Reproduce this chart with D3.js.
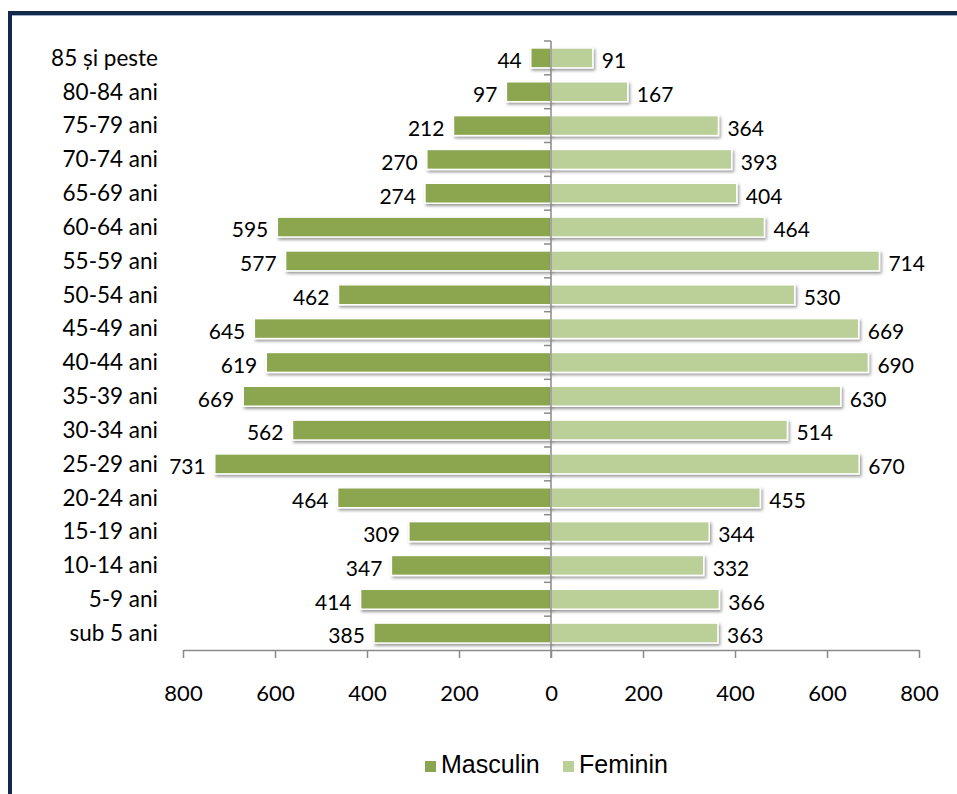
<!DOCTYPE html>
<html>
<head>
<meta charset="utf-8">
<script src="https://cdn.jsdelivr.net/npm/d3@7"></script>
<style>
  html, body { margin: 0; padding: 0; background: #ffffff; }
  svg { display: block; }
</style>
</head>
<body>
<script>
const categories = ["85 și peste","80-84 ani","75-79 ani","70-74 ani","65-69 ani","60-64 ani","55-59 ani","50-54 ani","45-49 ani","40-44 ani","35-39 ani","30-34 ani","25-29 ani","20-24 ani","15-19 ani","10-14 ani","5-9 ani","sub 5 ani"];
const masculin = [44,97,212,270,274,595,577,462,645,619,669,562,731,464,309,347,414,385];
const feminin  = [91,167,364,393,404,464,714,530,669,690,630,514,670,455,344,332,366,363];
const xTicks = [-800,-600,-400,-200,0,200,400,600,800];
const seriesNames = ["Masculin","Feminin"];
const colors = ["#8BA650","#BBCF98"];

const W = 957, H = 794;
const svg = d3.select("body").append("svg").attr("width", W).attr("height", H);

const defs = svg.append("defs");
const f = defs.append("filter").attr("id","shadow").attr("x","-10%").attr("y","-40%").attr("width","130%").attr("height","200%");
f.append("feDropShadow").attr("dx",1.5).attr("dy",2).attr("stdDeviation",1.8).attr("flood-color","#000").attr("flood-opacity",0.4);

// frame
svg.append("line").attr("x1",10).attr("x2",10).attr("y1",11).attr("y2",H).attr("stroke","#14284b").attr("stroke-width",4);
svg.append("line").attr("x1",8).attr("x2",W).attr("y1",13).attr("y2",13).attr("stroke","#14284b").attr("stroke-width",4);
svg.append("line").attr("x1",12).attr("x2",W).attr("y1",15.5).attr("y2",15.5).attr("stroke","#9fb0c8").attr("stroke-width",1);

const x = d3.scaleLinear().domain([-800,800]).range([183,919]);
const y = d3.scaleBand().domain(categories).range([41,650]).paddingInner(0.41).paddingOuter(0.205);

const font = "Lato, 'Open Sans', sans-serif";
const axisColor = "#8a8a8a";

// bars
const g = svg.append("g");
categories.forEach((c,i) => {
  g.append("rect")
    .attr("x", x(-masculin[i])).attr("y", y(c))
    .attr("width", x(0) - x(-masculin[i])).attr("height", y.bandwidth())
    .attr("fill", colors[0]).attr("stroke","#fff").attr("stroke-width",1.5)
    .attr("filter","url(#shadow)");
  g.append("rect")
    .attr("x", x(0)).attr("y", y(c))
    .attr("width", x(feminin[i]) - x(0)).attr("height", y.bandwidth())
    .attr("fill", colors[1]).attr("stroke","#fff").attr("stroke-width",1.5)
    .attr("filter","url(#shadow)");
});

// vertical axis at 0 with category boundary ticks
svg.append("line").attr("x1",x(0)).attr("x2",x(0)).attr("y1",41).attr("y2",658)
  .attr("stroke",axisColor).attr("stroke-width",1.5);
const step = y.step();
d3.range(categories.length).forEach(i => {
  const yy = y(categories[i]) - step*y.paddingInner()/2;
  svg.append("line").attr("x1",x(0)-7).attr("x2",x(0)).attr("y1",yy).attr("y2",yy)
    .attr("stroke",axisColor).attr("stroke-width",1.5);
});

// bottom axis
const xAxis = d3.axisBottom(x).tickValues(xTicks).tickSize(8).tickSizeOuter(0)
  .tickFormat(d => Math.abs(d));
const ax = svg.append("g").attr("transform","translate(0,650)").call(xAxis);
ax.select(".domain").attr("stroke",axisColor).attr("stroke-width",1.5);
ax.selectAll(".tick line").attr("stroke",axisColor).attr("stroke-width",1.5);
ax.selectAll(".tick text").attr("y",43).attr("dy","0.35em").attr("fill","#000")
  .style("font-family",font).style("font-size","22px");

// category labels
svg.append("g").selectAll("text").data(categories).join("text")
  .attr("x",158).attr("y",d => y(d)+y.bandwidth()/2).attr("dy","0.35em")
  .attr("text-anchor","end").style("font-family",font).style("font-size","22.5px").attr("fill","#000")
  .text(d => d);

// value labels
svg.append("g").selectAll("text").data(categories).join("text")
  .attr("x",(d,i) => x(-masculin[i]) - 9).attr("y",d => y(d)+y.bandwidth()/2 + 3).attr("dy","0.35em")
  .attr("text-anchor","end").style("font-family",font).style("font-size","21px").attr("fill","#000")
  .text((d,i) => masculin[i]);
svg.append("g").selectAll("text").data(categories).join("text")
  .attr("x",(d,i) => x(feminin[i]) + 9).attr("y",d => y(d)+y.bandwidth()/2 + 3).attr("dy","0.35em")
  .attr("text-anchor","start").style("font-family",font).style("font-size","21px").attr("fill","#000")
  .text((d,i) => feminin[i]);

// legend
const legFont = "'Liberation Sans Narrow', 'Arial Narrow', 'Liberation Sans', sans-serif";
const leg = svg.append("g");
const legX = [425, 563];
seriesNames.forEach((n,i) => {
  leg.append("rect").attr("x",legX[i]).attr("y",761).attr("width",11).attr("height",11).attr("fill",colors[i]);
  leg.append("text").attr("x",legX[i]+16).attr("y",764).attr("dy","0.35em")
    .style("font-family",legFont).style("font-size","25px").attr("fill","#000").text(n);
});
</script>
</body>
</html>
